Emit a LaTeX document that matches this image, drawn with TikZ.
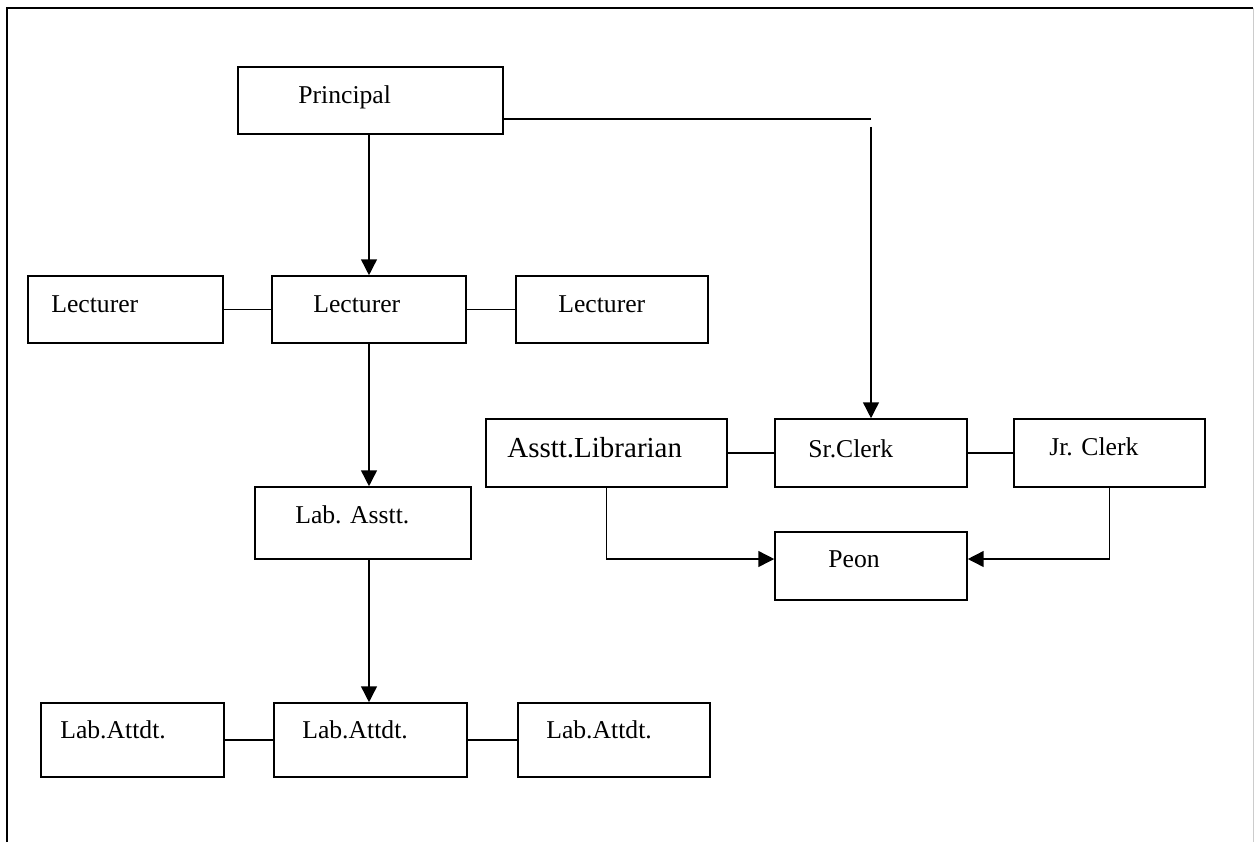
\documentclass[tikz,border=0pt]{standalone}
\usepackage{fontspec}
\setmainfont{Liberation Serif}
\usetikzlibrary{arrows.meta}
\tikzset{box/.style={draw, line width=0.9pt, inner sep=0pt},
 lbl/.style={anchor=base west, inner sep=0pt, font=\fontsize{14.6}{17}\selectfont},
 link/.style={line width=0.85pt},
 }

\begin{document}
\begin{tikzpicture}[x=0.02cm, y=-0.02cm, >={Triangle[length=9pt,width=9pt]}]
        \useasboundingbox (0,0) rectangle (1254,842);
        \draw[line width=1.2pt] (7,842) -- (7,8) -- (1253,8);
        \draw[gray!40] (1253,8) -- (1253,842);

        \node[box, minimum width=5.3cm, minimum height=1.34cm] (princ) at (370.5,100.5) {};
        \node[lbl] (tprinc) at (298,103) {Principal};

        \foreach \n/\cx/\w/\tx in {lecL/125.5/3.9/51, lecC/369/3.88/313, lecR/612/3.84/558} {
            \node[box, minimum width=\w cm, minimum height=1.34cm] (\n) at (\cx,309.5) {};
            \node[lbl] (t\n) at (\tx,312) {Lecturer};
        }
        \node[box, minimum width=4.32cm, minimum height=1.44cm] (labAs) at (363,523) {};
        \node[lbl] (tlabAs) at (295,523) {Lab. Asstt.};
        \foreach \n/\cx/\w/\tx in {attL/132.5/3.66/60, attC/370.5/3.86/302, attR/614/3.84/546} {
            \node[box, minimum width=\w cm, minimum height=1.48cm] (\n) at (\cx,740) {};
            \node[lbl] (t\n) at (\tx,738) {Lab.Attdt.};
        }

        \node[box, minimum width=4.82cm, minimum height=1.36cm] (lib) at (606.5,453) {};
        \node[lbl, font=\fontsize{16.5}{19}\selectfont] (tlib) at (507,457) {Asstt.Librarian};
        \node[box, minimum width=3.84cm, minimum height=1.36cm] (srC) at (871,453) {};
        \node[lbl] (tsrC) at (808,457) {Sr.Clerk};
        \node[box, minimum width=3.82cm, minimum height=1.36cm] (jrC) at (1109.5,453) {};
        \node[lbl] (tjrC) at (1049,455) {Jr. Clerk};
        \node[box, minimum width=3.84cm, minimum height=1.36cm] (peon) at (871,566) {};
        \node[lbl] (tpeon) at (828,567) {Peon};

        % teaching side
        \draw[link, ->] (lecC.north |- princ.south) -- (lecC.north);
        \draw[link] (lecL.east) -- (lecC.west);
        \draw[link] (lecC.east) -- (lecR.west);
        \draw[link, ->] (lecC.south) -- (lecC.south |- labAs.north);
        \draw[link, ->] (labAs.south -| lecC.south) -- (attC.north -| lecC.south);
        \draw[link] (attL.east) -- (attC.west);
        \draw[link] (attC.east) -- (attR.west);

        % office side
        \draw[link] ([yshift=-0.37cm]princ.east) coordinate (pr) -- (pr -| srC.north) coordinate (turn);
        \draw[link, ->] ([yshift=-0.16cm]turn) -- (srC.north);
        \draw[link] (lib.east) -- (srC.west);
        \draw[link] (srC.east) -- (jrC.west);
        \draw[link, ->] (lib.south) |- ([yshift=0.14cm]peon.west);
        \draw[link, ->] (jrC.south) |- ([yshift=0.14cm]peon.east);
    \end{tikzpicture}
\end{document}
